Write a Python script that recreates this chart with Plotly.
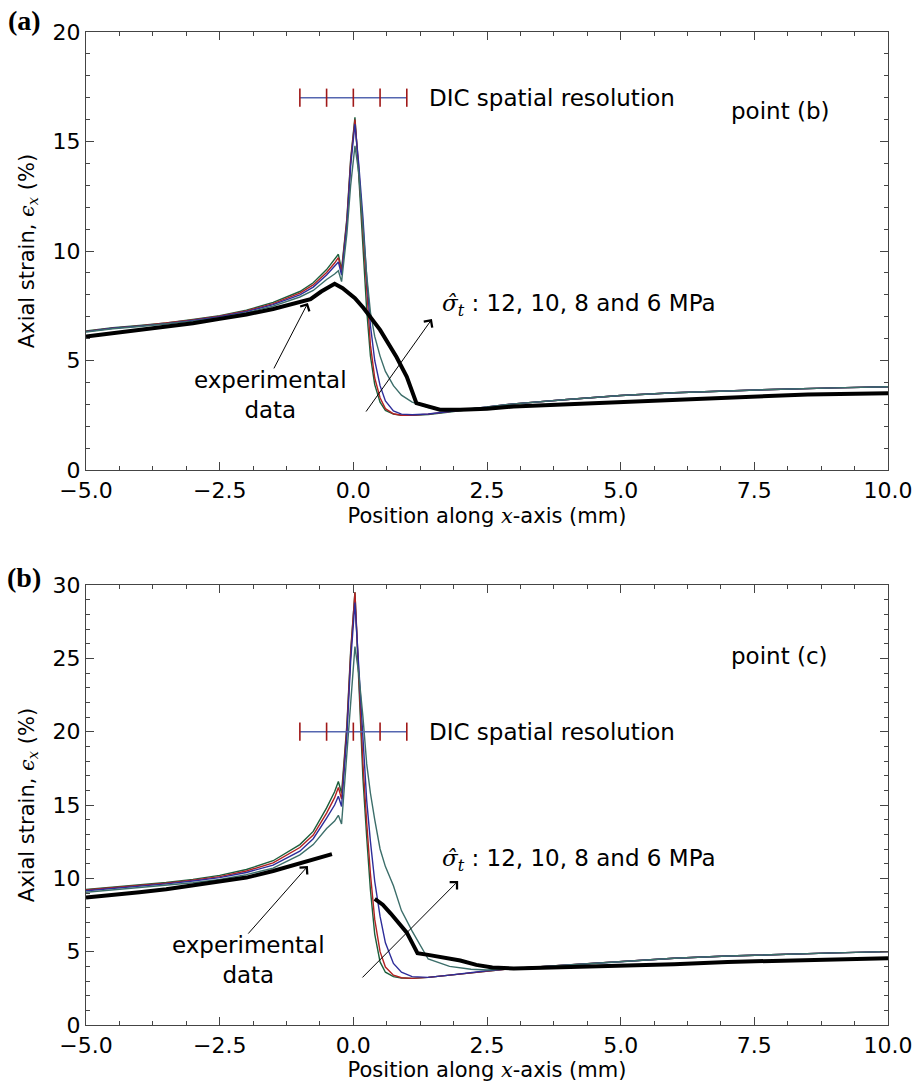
import plotly.graph_objects as go

# ---------------- data ----------------
# model curves share one x grid per panel
xm = [-5, -4.5, -4, -3.5, -3, -2.5, -2, -1.5, -1.0, -0.75, -0.5, -0.35, -0.28, -0.22,
      -0.12, -0.05, 0.03, 0.1, 0.18, 0.25, 0.32, 0.4, 0.5, 0.6, 0.75, 0.9, 1.1, 1.4,
      1.8, 2.2, 2.5, 3.0, 4.0, 5.0, 6.0, 7.0, 8.0, 9.0, 10.0]

# panel (a) - point (b)
a_12 = [6.35, 6.5, 6.6, 6.72, 6.88, 7.05, 7.3, 7.65, 8.15, 8.55, 9.15, 9.6, 9.85, 9.15,
        11.5, 14.2, 16.1, 13.5, 10.3, 7.3, 5.2, 3.9, 3.1, 2.72, 2.55, 2.5, 2.5, 2.53,
        2.65, 2.78, 2.88, 3.02, 3.22, 3.4, 3.53, 3.62, 3.69, 3.75, 3.8]
a_10 = [6.33, 6.48, 6.58, 6.7, 6.85, 7.02, 7.26, 7.6, 8.08, 8.45, 9.02, 9.45, 9.7, 9.05,
        11.4, 14.1, 16.0, 13.8, 10.8, 7.9, 5.7, 4.2, 3.3, 2.8, 2.57, 2.5, 2.5, 2.55,
        2.66, 2.78, 2.88, 3.02, 3.22, 3.4, 3.53, 3.62, 3.69, 3.75, 3.8]
a_8 = [6.32, 6.47, 6.57, 6.68, 6.83, 7.0, 7.23, 7.55, 8.0, 8.35, 8.9, 9.28, 9.5, 8.9,
       11.2, 13.9, 15.8, 14.0, 11.5, 8.8, 6.6, 5.0, 3.85, 3.15, 2.7, 2.55, 2.52, 2.56,
       2.67, 2.78, 2.88, 3.02, 3.22, 3.4, 3.53, 3.62, 3.69, 3.75, 3.8]
a_6 = [6.3, 6.45, 6.55, 6.66, 6.8, 6.95, 7.18, 7.48, 7.9, 8.2, 8.7, 8.95, 9.1, 8.6,
       10.8, 13.0, 14.8, 13.6, 11.0, 8.9, 7.2, 6.1, 5.2, 4.5, 3.85, 3.42, 3.1, 2.85,
       2.75, 2.8, 2.88, 3.02, 3.22, 3.4, 3.53, 3.62, 3.69, 3.75, 3.8]
exp_a_x = [-5, -4.5, -4, -3.5, -3, -2.5, -2, -1.5, -1.0, -0.8, -0.6, -0.45, -0.35, -0.2,
           -0.1, 0.03, 0.19, 0.5, 0.81, 1.0, 1.18, 1.43, 1.62, 2.0, 2.5, 3.0, 4.0, 5.0,
           6.0, 7.0, 7.8, 8.5, 10.0]
exp_a_y = [6.1, 6.25, 6.4, 6.55, 6.7, 6.9, 7.1, 7.35, 7.65, 7.8, 8.15, 8.35, 8.5, 8.3,
           8.1, 7.85, 7.4, 6.4, 5.15, 4.25, 3.05, 2.9, 2.75, 2.75, 2.8, 2.9, 3.0, 3.1,
           3.2, 3.3, 3.4, 3.45, 3.5]

# panel (b) - point (c)
b_12 = [9.25, 9.4, 9.55, 9.72, 9.93, 10.2, 10.6, 11.2, 12.3, 13.2, 14.8, 15.9, 16.6, 15.8,
        20.5, 25.5, 29.5, 23.0, 16.8, 12.8, 9.2, 6.2, 4.3, 3.6, 3.3, 3.2, 3.18, 3.25,
        3.4, 3.58, 3.7, 3.85, 4.1, 4.35, 4.55, 4.7, 4.82, 4.92, 5.0]
b_10 = [9.2, 9.35, 9.5, 9.67, 9.88, 10.12, 10.5, 11.05, 12.1, 12.95, 14.45, 15.5, 16.2, 15.4,
        20.3, 25.3, 29.5, 23.8, 17.8, 13.8, 10.3, 7.2, 5.0, 3.95, 3.4, 3.22, 3.18, 3.25,
        3.4, 3.58, 3.7, 3.85, 4.1, 4.35, 4.55, 4.7, 4.82, 4.92, 5.0]
b_8 = [9.15, 9.3, 9.45, 9.62, 9.82, 10.05, 10.4, 10.9, 11.85, 12.7, 14.1, 15.0, 15.6, 14.9,
       19.8, 24.8, 28.8, 24.5, 19.0, 15.3, 12.5, 9.8, 7.4, 5.6, 4.2, 3.6, 3.3, 3.25,
       3.4, 3.58, 3.7, 3.85, 4.1, 4.35, 4.55, 4.7, 4.82, 4.92, 5.0]
b_6 = [9.05, 9.2, 9.35, 9.5, 9.7, 9.92, 10.25, 10.7, 11.6, 12.3, 13.4, 13.9, 14.3, 13.7,
       18.5, 22.5, 25.8, 24.0, 21.0, 17.8, 15.8, 14.0, 12.0, 10.8, 9.5, 7.8, 6.4, 4.5,
       4.0, 3.8, 3.75, 3.85, 4.1, 4.35, 4.55, 4.7, 4.82, 4.92, 5.0]
exp_b_left_x = [-5, -4.5, -4, -3.5, -3, -2.5, -2, -1.5, -1.0, -0.7, -0.4]
exp_b_left_y = [8.7, 8.85, 9.05, 9.25, 9.5, 9.75, 10.05, 10.5, 11.0, 11.35, 11.65]
exp_b_right_x = [0.4, 0.55, 0.7, 0.85, 1.0, 1.1, 1.2, 1.4, 1.7, 2.0, 2.3, 2.6, 3.0, 4.0,
                 5.0, 6.0, 7.0, 8.0, 9.0, 10.0]
exp_b_right_y = [8.6, 8.2, 7.6, 7.0, 6.3, 5.6, 4.9, 4.78, 4.6, 4.4, 4.1, 3.92, 3.86, 3.95,
                 4.05, 4.15, 4.3, 4.4, 4.5, 4.55]

# DIC spatial resolution bar (mm positions)
dic_x = [-1.0, -0.5, 0.0, 0.5, 1.0]
dic_y_a = 17
dic_y_b = 20

sigma_levels = ["12 MPa", "10 MPa", "8 MPa", "6 MPa"]
model_colors = ["#1b5e3b", "#b22222", "#2d2d9a", "#3c6e6a"]

# ---------------- figure ----------------
W, H = 921, 1082
FONT = "DejaVu Sans"
fig = go.Figure()

def add_panel(xa, ya, curves, exp_sets, dic_y):
    for name, ys, col in zip(sigma_levels, curves, model_colors):
        fig.add_trace(go.Scatter(x=xm, y=ys, mode="lines", name=name,
                                 line=dict(color=col, width=1.4),
                                 xaxis=xa, yaxis=ya, showlegend=False))
    for ex, ey in exp_sets:
        fig.add_trace(go.Scatter(x=ex, y=ey, mode="lines", name="experimental data",
                                 line=dict(color="black", width=4),
                                 xaxis=xa, yaxis=ya, showlegend=False))
    fig.add_trace(go.Scatter(x=[dic_x[0], dic_x[-1]], y=[dic_y, dic_y], mode="lines",
                             line=dict(color="#5566b0", width=1.5),
                             xaxis=xa, yaxis=ya, showlegend=False))
    fig.add_trace(go.Scatter(x=dic_x, y=[dic_y] * len(dic_x), mode="markers",
                             marker=dict(symbol="line-ns", size=13,
                                         line=dict(color="#a01818", width=1.6)),
                             xaxis=xa, yaxis=ya, showlegend=False))

add_panel("x", "y", [a_12, a_10, a_8, a_6], [(exp_a_x, exp_a_y)], dic_y_a)
add_panel("x2", "y2", [b_12, b_10, b_8, b_6],
          [(exp_b_left_x, exp_b_left_y), (exp_b_right_x, exp_b_right_y)], dic_y_b)

x_dom = [86 / W, 888 / W]
ya_dom = [(H - 470) / H, (H - 32) / H]
yb_dom = [(H - 1025) / H, (H - 585) / H]

tickfont = dict(family=FONT, size=22, color="black")
titlefont = dict(family=FONT, size=21, color="black")
axcommon = dict(showline=True, linecolor="#444", linewidth=1.3, mirror="allticks",
                ticks="inside", ticklen=8, tickwidth=1.2, tickcolor="#444",
                showgrid=False, zeroline=False, tickfont=tickfont, automargin=False)

xtitle = "Position along <span style=\"font-family:'DejaVu Serif'\"><i>x</i></span>-axis (mm)"
ytitle = "Axial strain, <span style=\"font-family:'DejaVu Serif'\"><i>ϵ</i><sub><i>x</i></sub></span> (%)"

fig.update_layout(
    width=W, height=H, margin=dict(l=0, r=0, t=0, b=0, autoexpand=False),
    paper_bgcolor="white", plot_bgcolor="white", showlegend=False,
    xaxis=dict(domain=x_dom, anchor="y", range=[-5, 10], tick0=-5, dtick=2.5,
               tickformat=".1f",
               minor=dict(dtick=0.625, tick0=-5, ticks="inside", ticklen=4, tickcolor="#444"),
               title=dict(text=xtitle, font=titlefont, standoff=6), **axcommon),
    yaxis=dict(domain=ya_dom, anchor="x", range=[0, 20], tick0=0, dtick=5,
               minor=dict(dtick=1, tick0=0, ticks="inside", ticklen=4, tickcolor="#444"),
               title=dict(text=ytitle, font=titlefont, standoff=12), **axcommon),
    xaxis2=dict(domain=x_dom, anchor="y2", range=[-5, 10], tick0=-5, dtick=2.5,
                tickformat=".1f",
                minor=dict(dtick=0.625, tick0=-5, ticks="inside", ticklen=4, tickcolor="#444"),
                title=dict(text=xtitle, font=titlefont, standoff=6), **axcommon),
    yaxis2=dict(domain=yb_dom, anchor="x2", range=[0, 30], tick0=0, dtick=5,
                minor=dict(dtick=1, tick0=0, ticks="inside", ticklen=4, tickcolor="#444"),
                title=dict(text=ytitle, font=titlefont, standoff=12), **axcommon),
)

txtfont = dict(family=FONT, size=23, color="black")
sig = ("<span style=\"font-family:'DejaVu Serif'\"><i>σ̂</i><sub><i>t</i></sub></span>"
       " : 12, 10, 8 and 6 MPa")

ann = []
for xr, yr, dy, pt, exy, sgy, exp_arrow, sig_arrow, lab, laby in [
    ("x", "y", dic_y_a, (7.03, 16.4, "point (b)"), (-1.54, 3.42), 7.53,
     ((-0.85, 7.63), (-1.50, 4.57)), ((1.47, 6.89), (0.218, 2.60)), "(a)", 20),
    ("x2", "y2", dic_y_b, (7.03, 25.15, "point (c)"), (-1.97, 4.43), 11.25,
     ((-0.85, 10.84), (-1.99, 6.13)), ((1.96, 9.82), (0.143, 3.14)), "(b)", 577),
]:
    ann.append(dict(x=1.38, y=dy, xref=xr, yref=yr, text="DIC spatial resolution",
                    showarrow=False, xanchor="left", yanchor="middle", font=txtfont))
    ann.append(dict(x=pt[0], y=pt[1], xref=xr, yref=yr, text=pt[2],
                    showarrow=False, xanchor="left", yanchor="middle", font=txtfont))
    ann.append(dict(x=exy[0], y=exy[1], xref=xr, yref=yr, text="experimental<br>data",
                    showarrow=False, xanchor="center", yanchor="middle", align="center",
                    font=txtfont))
    ann.append(dict(x=1.62, y=sgy, xref=xr, yref=yr, text=sig,
                    showarrow=False, xanchor="left", yanchor="middle", font=txtfont))
    for (tip, tail) in (exp_arrow, sig_arrow):
        ann.append(dict(x=tip[0], y=tip[1], ax=tail[0], ay=tail[1], xref=xr, yref=yr,
                        axref=xr, ayref=yr, text="", showarrow=True, arrowhead=4,
                        arrowsize=2, arrowwidth=1, arrowcolor="black"))
    ann.append(dict(x=24 / W, y=(H - laby) / H, xref="paper", yref="paper", text="<b>" + lab + "</b>",
                    showarrow=False, xanchor="center", yanchor="middle",
                    font=dict(family="Liberation Serif", size=28, color="black")))

fig.update_layout(annotations=ann)
fig.write_html("out.html")
